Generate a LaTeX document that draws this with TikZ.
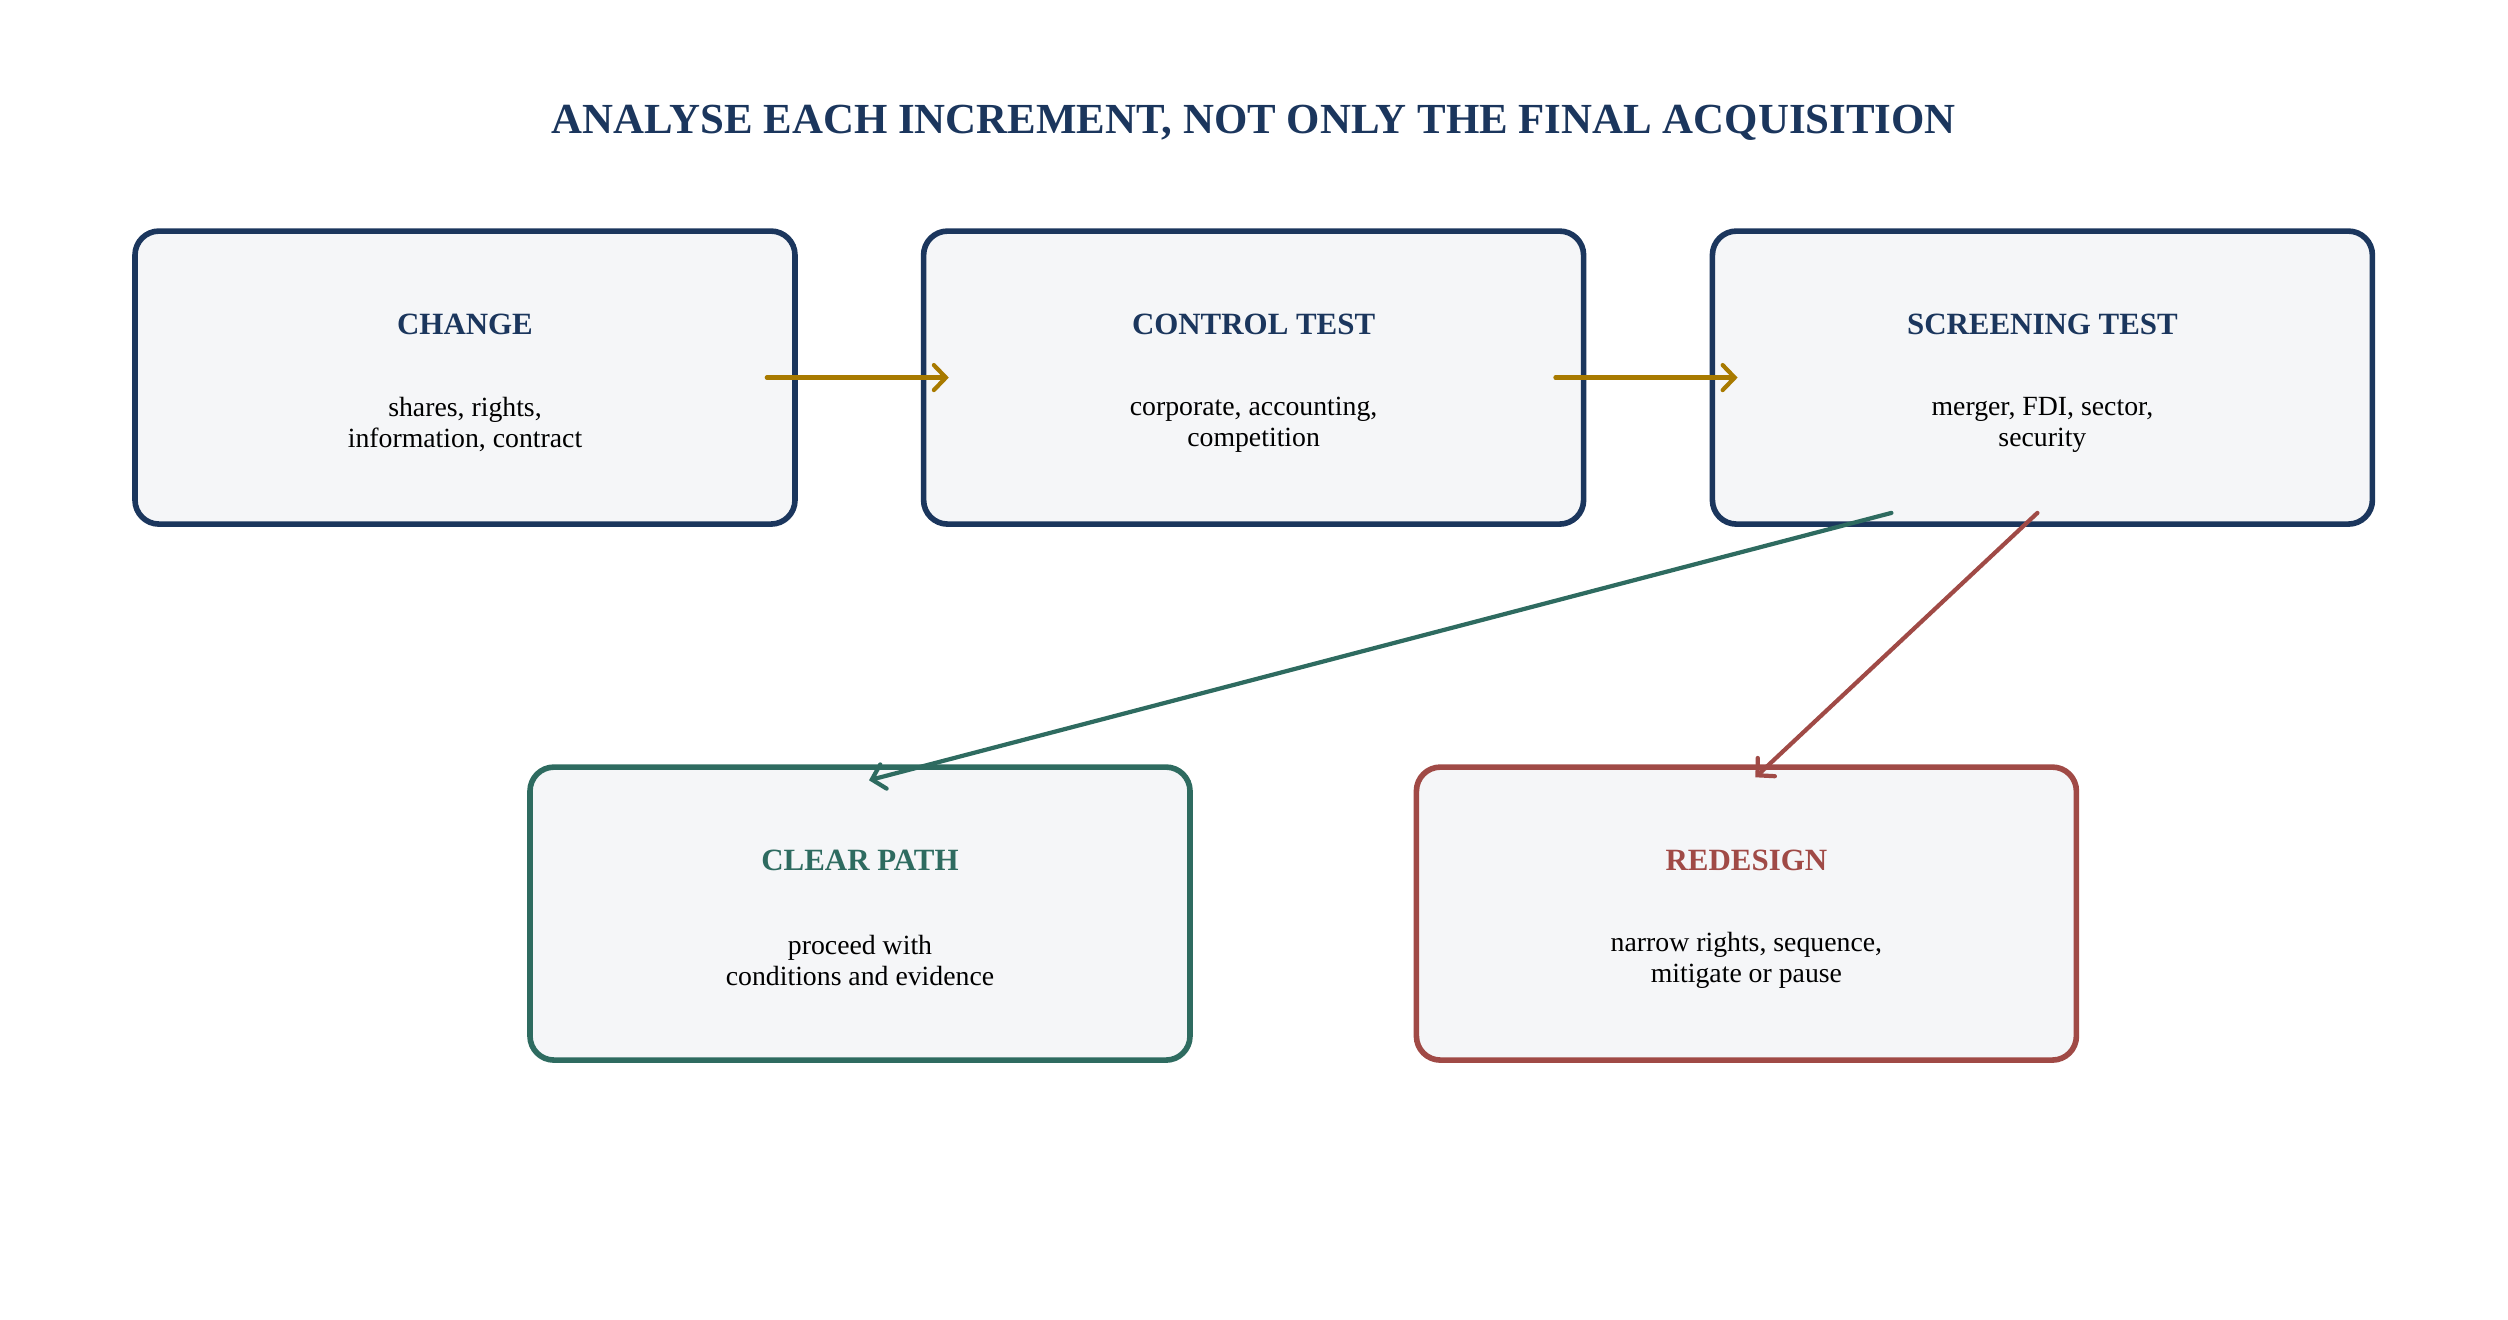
\documentclass[tikz,border=0pt]{standalone}
\usepackage{fontspec}
\setmainfont{Liberation Serif}
\usepackage{tikz}
\usetikzlibrary{positioning,arrows.meta}

\definecolor{navy}{HTML}{1B365D}
\definecolor{gold}{HTML}{A87A00}
\definecolor{pine}{HTML}{2E6B60}
\definecolor{brick}{HTML}{A04A46}
\definecolor{paper}{HTML}{F5F6F8}

\tikzset{
  stagebox/.style={draw=#1, fill=paper, line width=1.6pt, rounded corners=0.24cm,
    minimum width=6.6cm, minimum height=2.93cm},
  stagetitle/.style={text=#1, font=\fontsize{8.8}{10}\selectfont\bfseries},
  stagetext/.style={align=center, font=\fontsize{7.9}{8.8}\selectfont},
  flow/.style={draw=#1, line width=1.2pt, line cap=round,
    -{Straight Barb[length=1.2mm,width=2.5mm,line cap=round]}}
}

\begin{document}
\begin{tikzpicture}
  \useasboundingbox (0,0) rectangle (25.08,-13.2);

  % title
  \node[text=navy, font=\fontsize{12.2}{14}\selectfont\bfseries] (head) at (12.54,-1.23)
    {ANALYSE EACH INCREMENT, NOT ONLY THE FINAL ACQUISITION};

  % top row
  \node[stagebox=navy] (change) at (4.65,-3.776) {};
  \node[stagebox=navy] (control) at (12.536,-3.776) {};
  \node[stagebox=navy] (screen) at (20.424,-3.776) {};

  % bottom row
  \node[stagebox=pine] (clear) at (8.6,-9.136) {};
  \node[stagebox=brick] (redesign) at (17.464,-9.136) {};

  % texts
  \node[stagetitle=navy] (change-t) at ([yshift=0.53cm]change.center) {CHANGE};
  \node[stagetext] (change-b) at ([yshift=-0.47cm]change.center) {shares, rights,\\information, contract};
  \node[stagetitle=navy] (control-t) at ([yshift=0.53cm]control.center) {CONTROL TEST};
  \node[stagetext] (control-b) at ([yshift=-0.47cm]control.center) {corporate, accounting,\\competition};
  \node[stagetitle=navy] (screen-t) at ([yshift=0.53cm]screen.center) {SCREENING TEST};
  \node[stagetext] (screen-b) at ([yshift=-0.47cm]screen.center) {merger, FDI, sector,\\security};
  \node[stagetitle=pine] (clear-t) at ([yshift=0.53cm]clear.center) {CLEAR PATH};
  \node[stagetext] (clear-b) at ([yshift=-0.47cm]clear.center) {proceed with\\conditions and evidence};
  \node[stagetitle=brick] (redesign-t) at ([yshift=0.53cm]redesign.center) {REDESIGN};
  \node[stagetext] (redesign-b) at ([yshift=-0.47cm]redesign.center) {narrow rights, sequence,\\mitigate or pause};

  % connectors
  \draw[flow=gold] ([xshift=-0.31cm]change.east) -- ([xshift=0.28cm]control.west);
  \draw[flow=gold] ([xshift=-0.31cm]control.east) -- ([xshift=0.28cm]screen.west);
  \draw[flow=pine] ([shift={(-1.51,0.14)}]screen.south) -- ([shift={(0.09,-0.16)}]clear.north);
  \draw[flow=brick] ([shift={(-0.05,0.14)}]screen.south) -- ([shift={(0.09,-0.13)}]redesign.north);
\end{tikzpicture}
\end{document}
